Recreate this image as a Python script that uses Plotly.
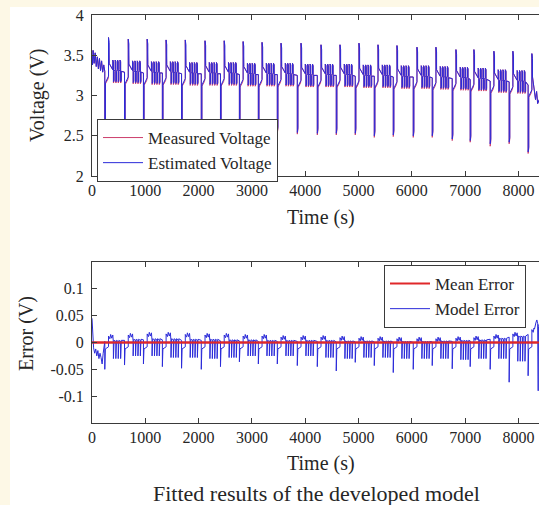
import plotly.graph_objects as go

# ---------------- data ----------------
# discharge-pulse start time of each test cycle (s)
cycle_t = [240, 610, 965, 1320, 1680, 2050, 2410, 2765, 3120, 3476, 3851, 4226,
           4582, 4938, 5295, 5651, 6026, 6382, 6757, 7094, 7469, 7825, 8181]
# charge-pulse peak voltage (V)
peak_v = [3.72, 3.70, 3.70, 3.69, 3.69, 3.68, 3.68, 3.67, 3.66, 3.65, 3.65, 3.63,
          3.63, 3.65, 3.63, 3.62, 3.60, 3.60, 3.57, 3.57, 3.55, 3.55, 3.52]
# discharge-pulse minimum voltage (V)
low_est = [2.58, 2.57, 2.57, 2.57, 2.56, 2.56, 2.55, 2.55, 2.55, 2.55, 2.54, 2.53,
           2.53, 2.53, 2.50, 2.51, 2.50, 2.50, 2.46, 2.44, 2.40, 2.42, 2.30]
low_meas = [2.56, 2.55, 2.55, 2.55, 2.54, 2.54, 2.53, 2.53, 2.53, 2.53, 2.52, 2.51,
            2.51, 2.51, 2.48, 2.49, 2.48, 2.48, 2.44, 2.42, 2.37, 2.40, 2.28]
# rest voltage between pulses (V)
rest_v = [3.30, 3.29, 3.28, 3.28, 3.27, 3.27, 3.27, 3.26, 3.26, 3.26, 3.25, 3.25,
          3.25, 3.24, 3.24, 3.23, 3.23, 3.22, 3.21, 3.20, 3.18, 3.17, 3.13]
# small pulses inside each cycle: start offsets (s) and swing (V)
small_off = [150, 195, 240, 285]
small_up = 0.14
small_dn = 0.13
meas_extra_drop = 0.015

# voltage before the first cycle and after the last one
volt_start_t = [0, 10, 20, 40, 60, 80, 100, 120, 140, 160, 180, 200, 220, 239]
volt_start_v = [3.50, 3.38, 3.56, 3.40, 3.53, 3.36, 3.48, 3.33, 3.46, 3.31, 3.43, 3.29, 3.38, 3.30]
volt_tail_t = [8300, 8320, 8340, 8360, 8390]
volt_tail_v = [3.05, 2.95, 3.05, 2.90, 2.95]

# model error per cycle (V)
err_dip = [-0.050, -0.042, -0.040, -0.045, -0.048, -0.050, -0.045, -0.036, -0.040, -0.040,
           -0.043, -0.045, -0.053, -0.037, -0.043, -0.056, -0.050, -0.043, -0.049, -0.045,
           -0.050, -0.074, -0.062]
err_plat = [0.012, 0.014, 0.016, 0.016, 0.015, 0.014, 0.014, 0.012, 0.012, 0.010, 0.010, 0.010,
            0.009, 0.008, 0.008, 0.007, 0.007, 0.007, 0.008, 0.009, 0.012, 0.016, 0.024]
err_base = [0.002, 0.004, 0.005, 0.005, 0.004, 0.004, 0.003, 0.003, 0.002, 0.002, 0.002, 0.002,
            0.001, 0.001, 0.001, 0.000, 0.000, 0.001, 0.002, 0.003, 0.006, 0.010, 0.015]
err_small = [-0.030, -0.025, -0.025, -0.028, -0.028, -0.030, -0.028, -0.025, -0.025, -0.025,
             -0.025, -0.028, -0.030, -0.028, -0.028, -0.030, -0.030, -0.030, -0.032, -0.030,
             -0.030, -0.035, -0.035]
err_start_t = [0, 5, 15, 30, 50, 70, 90, 110, 130, 150, 170, 190, 210, 230]
err_start_v = [0.045, 0.030, 0.005, -0.010, -0.020, -0.012, -0.025, -0.015, -0.030, -0.020,
               -0.028, -0.040, -0.020, -0.010]
err_tail_t = [8300, 8330, 8345, 8360, 8370, 8375, 8390]
err_tail_v = [0.025, 0.038, 0.042, 0.035, -0.09, 0.03, 0.035]
mean_err = 0.0

x_ticks = [0, 1000, 2000, 3000, 4000, 5000, 6000, 7000, 8000]
x_ticktext = ["0", "1000", "2000", "3000", "4000", "5000", "6000", "7000", "8000"]
v_ticks = [2, 2.5, 3, 3.5, 4]
v_ticktext = ["2", "2.5", "3", "3.5", "4"]
e_ticks = [-0.1, -0.05, 0, 0.05, 0.1]
e_ticktext = ["-0.1", "-0.05", "0", "0.05", "0.1"]
x_max = 8385


# ---------------- assemble the step-like traces ----------------
def build_voltage(lows, drop):
    t, v = list(volt_start_t), list(volt_start_v)
    for k, t0 in enumerate(cycle_t):
        B, P, L = rest_v[k], peak_v[k], lows[k]
        seg = [(t0, B), (t0, L), (t0 + 12, L + 0.06), (t0 + 12, B - 0.14 - drop),
               (t0 + 60, B - 0.08 - drop), (t0 + 70, B - 0.06), (t0 + 70, P),
               (t0 + 82, P - 0.06), (t0 + 82, B + 0.10), (t0 + 130, B + 0.04)]
        for o in small_off:
            seg += [(t0 + o, B + 0.02), (t0 + o, B + small_up), (t0 + o + 12, B + small_up - 0.02),
                    (t0 + o + 12, B - small_dn - drop), (t0 + o + 24, B - small_dn + 0.02 - drop),
                    (t0 + o + 24, B)]
        for a, b in seg:
            if a < volt_tail_t[0]:
                t.append(a)
                v.append(b)
    t += volt_tail_t
    v += volt_tail_v
    return t, v


def build_error():
    t, v = list(err_start_t), list(err_start_v)
    for k, t0 in enumerate(cycle_t):
        D, H, Z, S = err_dip[k], err_plat[k], err_base[k], err_small[k]
        seg = [(t0, Z), (t0, D), (t0 + 10, D * 0.6), (t0 + 10, -0.012), (t0 + 70, -0.008),
               (t0 + 70, H), (t0 + 95, H - 0.005), (t0 + 110, H + 0.003), (t0 + 130, H - 0.004),
               (t0 + 150, H + 0.002), (t0 + 160, Z)]
        for o in small_off:
            seg += [(t0 + o + 12, Z), (t0 + o + 12, S), (t0 + o + 24, Z + 0.002)]
        for a, b in seg:
            if a < err_tail_t[0]:
                t.append(a)
                v.append(b)
    t += err_tail_t
    v += err_tail_v
    return t, v


tm, vm = build_voltage(low_meas, meas_extra_drop)
te, ve = build_voltage(low_est, 0.0)
terr, verr = build_error()

# ---------------- figure ----------------
W, H = 539, 505
ML, MR, MT, MB = 92, 0, 15, 82
PW, PH = W - ML - MR, H - MT - MB


def px(x):
    return (x - ML) / PW


def py(y):
    return 1 - (y - MT) / PH


FONT = "Liberation Serif, Times New Roman, serif"
TXT = "#262626"
AX = "#3a3a3a"
est_color = "#2b2bd9"
meas_color = "#cc3d6c"
mean_color = "#e0282a"

fig = go.Figure()
fig.add_trace(go.Scatter(x=tm, y=vm, mode="lines", name="Measured Voltage",
                         line=dict(color=meas_color, width=1), xaxis="x", yaxis="y",
                         legend="legend"))
fig.add_trace(go.Scatter(x=te, y=ve, mode="lines", name="Estimated Voltage",
                         line=dict(color=est_color, width=1), xaxis="x", yaxis="y",
                         legend="legend"))
fig.add_trace(go.Scatter(x=[0, x_max], y=[mean_err, mean_err], mode="lines", name="Mean Error",
                         line=dict(color=mean_color, width=2), xaxis="x2", yaxis="y2",
                         legend="legend2"))
fig.add_trace(go.Scatter(x=terr, y=verr, mode="lines", name="Model Error",
                         line=dict(color=est_color, width=1), xaxis="x2", yaxis="y2",
                         legend="legend2"))
# keep the mean line on top of the error trace
fig.add_trace(go.Scatter(x=[0, x_max], y=[mean_err, mean_err], mode="lines", showlegend=False,
                         line=dict(color=mean_color, width=2), xaxis="x2", yaxis="y2",
                         hoverinfo="skip"))

axis_common = dict(showgrid=False, zeroline=False, showline=True, linecolor=AX, linewidth=1,
                   ticks="inside", ticklen=5, tickcolor=AX,
                   tickfont=dict(family=FONT, size=16, color=TXT))

top_dom = [py(176), 1]
bot_dom = [0, py(262)]


def label(text, x, y, size, angle=0):
    return dict(text=text, x=px(x), y=py(y), xref="paper", yref="paper", showarrow=False,
                xanchor="center", yanchor="middle", textangle=angle,
                font=dict(family=FONT, size=size, color=TXT))


fig.update_layout(
    width=W, height=H,
    margin=dict(l=ML, r=MR, t=MT, b=MB, autoexpand=False),
    paper_bgcolor="#fdf8e6",
    plot_bgcolor="white",
    xaxis=dict(axis_common, domain=[0, 1], range=[0, x_max], anchor="y", mirror="ticks",
               tickvals=x_ticks, ticktext=x_ticktext),
    yaxis=dict(axis_common, domain=top_dom, range=[2, 4], anchor="x",
               tickvals=v_ticks, ticktext=v_ticktext, ticklabelstandoff=4),
    xaxis2=dict(axis_common, domain=[0, 1], range=[0, x_max], anchor="y2", mirror="ticks",
                tickvals=x_ticks, ticktext=x_ticktext),
    yaxis2=dict(axis_common, domain=bot_dom, range=[-0.15, 0.15], anchor="x2",
                tickvals=e_ticks, ticktext=e_ticktext, ticklabelstandoff=4),
    legend=dict(x=px(97), y=py(119), xanchor="left", yanchor="top", bgcolor="white",
                bordercolor=AX, borderwidth=1, font=dict(family=FONT, size=17, color=TXT),
                itemwidth=40, tracegroupgap=0),
    legend2=dict(x=px(384), y=py(265), xanchor="left", yanchor="top", bgcolor="white",
                 bordercolor=AX, borderwidth=1, font=dict(family=FONT, size=17, color=TXT),
                 itemwidth=40, tracegroupgap=0),
    showlegend=True,
    shapes=[dict(type="rect", xref="paper", yref="paper", x0=px(10), x1=px(W + 5),
                 y0=py(H + 5), y1=py(7), fillcolor="white", line=dict(width=0), layer="below")],
    annotations=[
        label("Voltage (V)", 38, 95, 20, -90),
        label("Error (V)", 26, 334, 20, -90),
        label("Time (s)", 321, 217, 20),
        label("Time (s)", 321, 463, 20),
        label("Fitted results of the developed model", 316, 493, 22),
    ],
)

fig.write_html("out.html")
